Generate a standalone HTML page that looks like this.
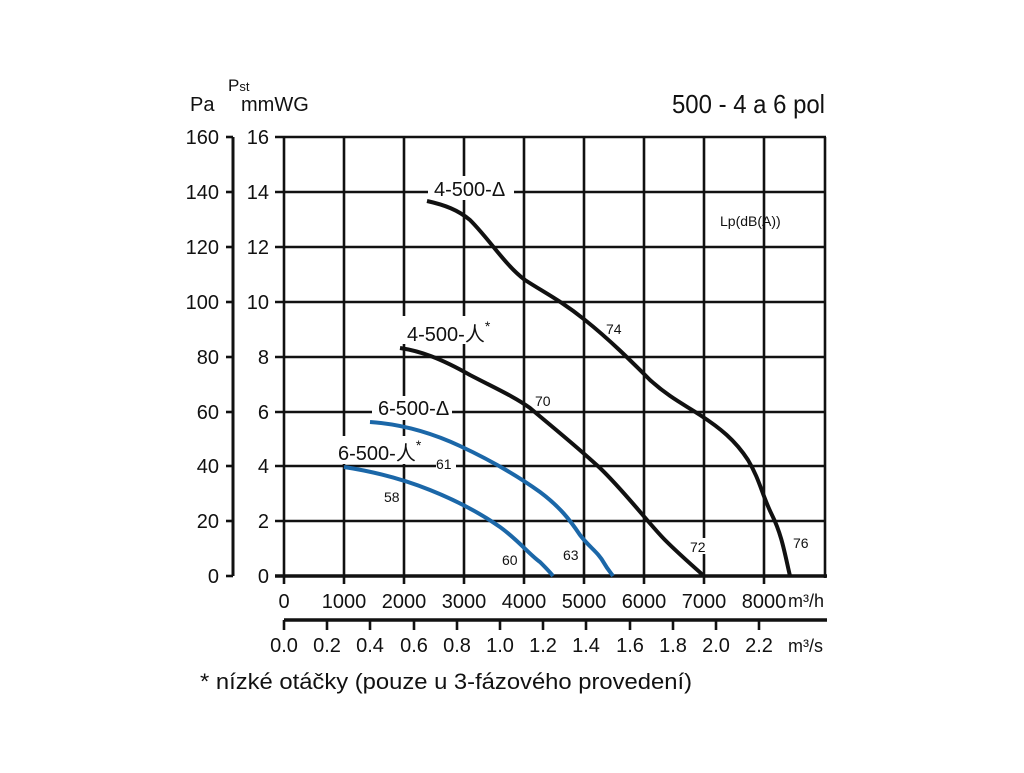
<!DOCTYPE html>
<html><head><meta charset="utf-8"><style>
body{margin:0;background:#fff;}
svg text{font-family:"Liberation Sans","Noto Sans CJK SC",sans-serif;fill:#111;}
</style></head><body>
<svg width="1024" height="768" viewBox="0 0 1024 768" xmlns="http://www.w3.org/2000/svg">
<g stroke="#111" stroke-width="2.6" fill="none">
<line x1="275" y1="137" x2="826" y2="137"/>
<line x1="275" y1="192" x2="826" y2="192"/>
<line x1="275" y1="247" x2="826" y2="247"/>
<line x1="275" y1="302" x2="826" y2="302"/>
<line x1="275" y1="357" x2="826" y2="357"/>
<line x1="275" y1="412" x2="826" y2="412"/>
<line x1="275" y1="466" x2="826" y2="466"/>
<line x1="275" y1="521" x2="826" y2="521"/>
<line x1="275" y1="576" x2="827" y2="576" stroke-width="3.5"/>
<line x1="284" y1="137" x2="284" y2="584"/>
<line x1="344" y1="137" x2="344" y2="584"/>
<line x1="404" y1="137" x2="404" y2="584"/>
<line x1="464" y1="137" x2="464" y2="584"/>
<line x1="524" y1="137" x2="524" y2="584"/>
<line x1="584" y1="137" x2="584" y2="584"/>
<line x1="644" y1="137" x2="644" y2="584"/>
<line x1="704" y1="137" x2="704" y2="584"/>
<line x1="764" y1="137" x2="764" y2="584"/>
<line x1="825" y1="137" x2="825" y2="578"/>
<line x1="233" y1="137" x2="233" y2="576" stroke-width="3"/>
<line x1="226" y1="137" x2="233" y2="137"/><line x1="226" y1="192" x2="233" y2="192"/>
<line x1="226" y1="247" x2="233" y2="247"/><line x1="226" y1="302" x2="233" y2="302"/>
<line x1="226" y1="357" x2="233" y2="357"/><line x1="226" y1="412" x2="233" y2="412"/>
<line x1="226" y1="466" x2="233" y2="466"/><line x1="226" y1="521" x2="233" y2="521"/>
<line x1="226" y1="576" x2="233" y2="576"/>
<line x1="284" y1="620" x2="827" y2="620" stroke-width="3.5"/>
<line x1="284" y1="620" x2="284" y2="630"/><line x1="327" y1="620" x2="327" y2="630"/>
<line x1="370" y1="620" x2="370" y2="630"/><line x1="414" y1="620" x2="414" y2="630"/>
<line x1="457" y1="620" x2="457" y2="630"/><line x1="500" y1="620" x2="500" y2="630"/>
<line x1="543" y1="620" x2="543" y2="630"/><line x1="586" y1="620" x2="586" y2="630"/>
<line x1="630" y1="620" x2="630" y2="630"/><line x1="673" y1="620" x2="673" y2="630"/>
<line x1="716" y1="620" x2="716" y2="630"/><line x1="759" y1="620" x2="759" y2="630"/>
</g>
<g fill="#fff">
<rect x="428" y="176" width="86" height="24"/>
<rect x="402" y="316" width="82" height="28"/>
<rect x="372" y="396" width="80" height="24"/>
<rect x="334" y="436" width="78" height="28"/>
<rect x="436" y="456" width="20" height="18"/>
<rect x="605" y="320" width="18" height="18"/>
<rect x="535" y="393" width="18" height="16"/>
<rect x="690" y="538" width="16" height="16"/>
<rect x="562" y="546" width="18" height="16"/>
</g>
<g fill="none" stroke-width="4" stroke-linecap="butt">
<path stroke="#111" d="M427,201 C445,205 458,210 470,220 C490,240 505,265 525,280 C545,293 560,300 585,320 C610,340 630,360 650,380 C670,398 685,405 700,415 C720,428 735,440 748,460 C760,480 762,495 772,515 C782,535 785,555 790,576"/>
<path stroke="#111" d="M400,348 C420,351 440,358 470,375 C495,388 515,397 530,408 C550,425 575,445 600,468 C625,492 650,525 665,540 C680,555 693,566 704,576"/>
<path stroke="#1b67a8" d="M370,422 C400,424 430,432 460,446 C490,460 515,474 540,492 C560,507 570,520 580,535 C590,548 598,552 604,563 C608,570 611,573 613,576"/>
<path stroke="#1b67a8" d="M344,467 C370,471 400,478 430,490 C455,500 480,513 500,527 C518,540 530,555 540,562 C546,568 550,572 553,576"/>
</g>
<g font-size="20">
<text x="190" y="111">Pa</text>
<text x="228" y="91" font-size="17">P<tspan font-size="13">st</tspan></text>
<text x="241" y="111">mmWG</text>
<text x="672" y="113" font-size="26" textLength="153" lengthAdjust="spacingAndGlyphs">500 - 4 a 6 pol</text>
<g text-anchor="end">
<text x="219" y="144">160</text><text x="219" y="199">140</text><text x="219" y="254">120</text>
<text x="219" y="309">100</text><text x="219" y="364">80</text><text x="219" y="419">60</text>
<text x="219" y="473">40</text><text x="219" y="528">20</text><text x="219" y="583">0</text>
<text x="269" y="144">16</text><text x="269" y="199">14</text><text x="269" y="254">12</text>
<text x="269" y="309">10</text><text x="269" y="364">8</text><text x="269" y="419">6</text>
<text x="269" y="473">4</text><text x="269" y="528">2</text><text x="269" y="583">0</text>
</g>
<g text-anchor="middle">
<text x="284" y="608">0</text><text x="344" y="608">1000</text><text x="404" y="608">2000</text>
<text x="464" y="608">3000</text><text x="524" y="608">4000</text><text x="584" y="608">5000</text>
<text x="644" y="608">6000</text><text x="704" y="608">7000</text><text x="764" y="608">8000</text>
<text x="284" y="652">0.0</text><text x="327" y="652">0.2</text><text x="370" y="652">0.4</text>
<text x="414" y="652">0.6</text><text x="457" y="652">0.8</text><text x="500" y="652">1.0</text>
<text x="543" y="652">1.2</text><text x="586" y="652">1.4</text><text x="630" y="652">1.6</text>
<text x="673" y="652">1.8</text><text x="716" y="652">2.0</text><text x="759" y="652">2.2</text>
</g>
<text x="788" y="607" font-size="18">m³/h</text>
<text x="788" y="652" font-size="18">m³/s</text>
<text x="200" y="689" font-size="22" textLength="492" lengthAdjust="spacingAndGlyphs">* nízké otáčky (pouze u 3-fázového provedení)</text>
<text x="434" y="196">4-500-Δ</text>
<text x="407" y="341">4-500-人<tspan font-size="14" dy="-10">*</tspan></text>
<text x="378" y="415">6-500-Δ</text>
<text x="338" y="460">6-500-人<tspan font-size="14" dy="-10">*</tspan></text>
</g>
<g font-size="14">
<text x="720" y="226">Lp(dB(A))</text>
<text x="606" y="334">74</text>
<text x="535" y="406">70</text>
<text x="436" y="469">61</text>
<text x="384" y="502">58</text>
<text x="502" y="565">60</text>
<text x="563" y="560">63</text>
<text x="690" y="552">72</text>
<text x="793" y="548">76</text>
</g>
</svg>
</body></html>
